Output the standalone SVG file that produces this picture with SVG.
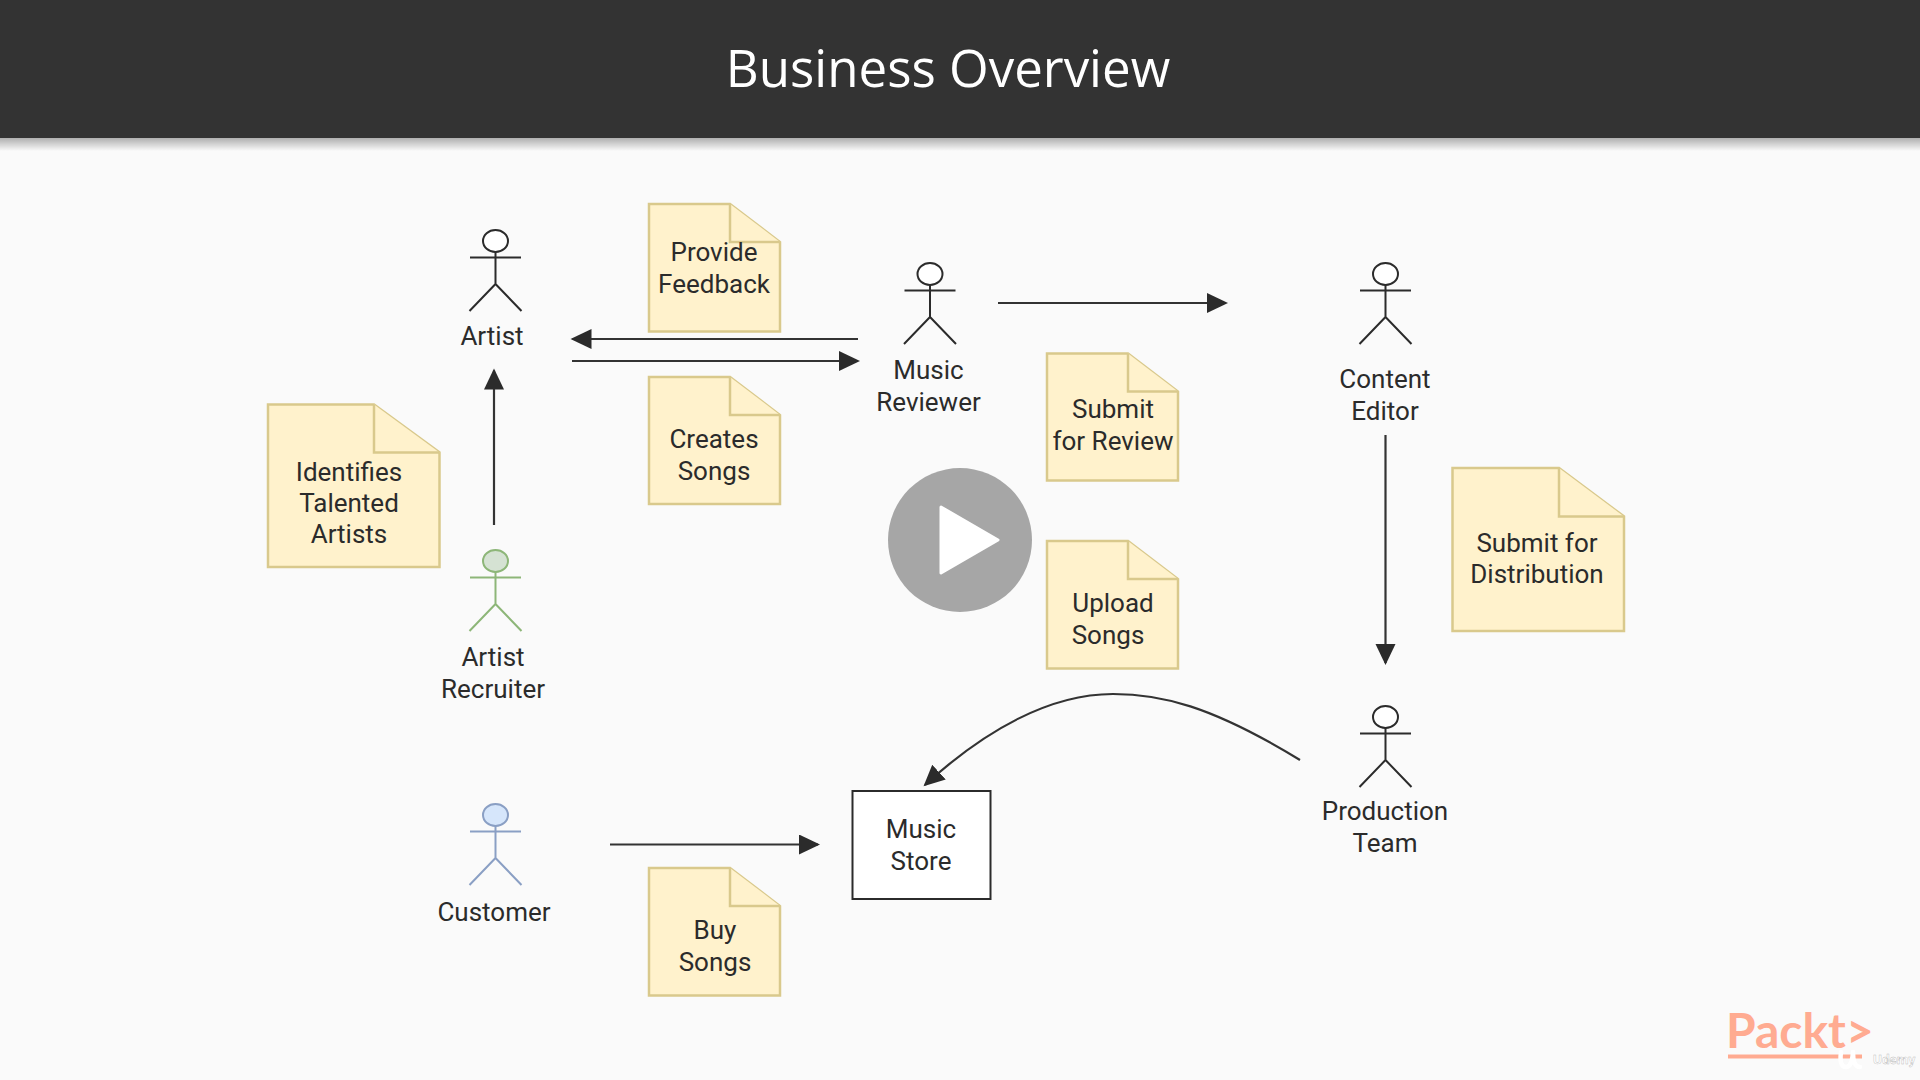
<svg xmlns="http://www.w3.org/2000/svg" width="1920" height="1080" viewBox="0 0 1920 1080">
<style>
text{font-family:Roboto,"Liberation Sans",sans-serif;font-size:26px;fill:#2b2b2b;text-anchor:middle}
.note{fill:#fff2cc;stroke:#d9c98c;stroke-width:2.5;stroke-linejoin:miter}
.a{fill:none;stroke-width:2}
.k{stroke:#2b2b2b}.g{stroke:#8db678}.b{stroke:#8a9fc4}
.c{fill:none;stroke:#333;stroke-width:2.2}
</style>
<defs>
<marker id="arrow" markerUnits="userSpaceOnUse" markerWidth="22" markerHeight="22" refX="19" refY="10" orient="auto"><path d="M0 0L21 10L0 20Z" fill="#2b2b2b"/></marker>
<linearGradient id="sh" x1="0" y1="0" x2="0" y2="1"><stop offset="0" stop-color="#000" stop-opacity=".3"/><stop offset="1" stop-color="#000" stop-opacity="0"/></linearGradient>
<g id="actor"><path d="M0 11V43M-25.500 16.500H25.500M0 43L-26 70M0 43L26 70"/></g>
</defs>
<rect width="1920" height="1080" fill="#fafafa"/>
<g id="header"><rect y="138" width="1920" height="13" fill="url(#sh)"/><rect width="1920" height="138" fill="#333"/>
<text x="948" y="86.500" style="font-family:'Open Sans',sans-serif;font-size:51px;fill:#fff">Business Overview</text></g>
<g id="connectors">
<path class="c" marker-end="url(#arrow)" d="M858 339H572.500"/>
<path class="c" marker-end="url(#arrow)" d="M572 361H858"/>
<path class="c" marker-end="url(#arrow)" d="M494 525V370.500"/>
<path class="c" marker-end="url(#arrow)" d="M998 303H1226"/>
<path class="c" marker-end="url(#arrow)" d="M1385.500 435V663"/>
<path class="c" marker-end="url(#arrow)" d="M610 844.500H818"/>
<path class="c" marker-end="url(#arrow)" d="M1300 760C1210 705 1160 694 1113 694C1050 694 985 730 925 785"/>
</g>
<g id="artist"><use href="#actor" x="495.500" y="241" class="a k"/><ellipse class="a k" cx="495.500" cy="241" rx="12.500" ry="11" style="fill:#fff"/><text x="492" y="345">Artist</text></g>
<g id="music-reviewer"><use href="#actor" x="930" y="274" class="a k"/><ellipse class="a k" cx="930" cy="274" rx="12.500" ry="11" style="fill:#fff"/><text x="928.500" y="379">Music</text><text x="928.500" y="411">Reviewer</text></g>
<g id="content-editor"><use href="#actor" x="1385.500" y="274" class="a k"/><ellipse class="a k" cx="1385.500" cy="274" rx="12.500" ry="11" style="fill:#fff"/><text x="1385" y="388">Content</text><text x="1385" y="420">Editor</text></g>
<g id="production-team"><use href="#actor" x="1385.500" y="717" class="a k"/><ellipse class="a k" cx="1385.500" cy="717" rx="12.500" ry="11" style="fill:#fff"/><text x="1385" y="819.500">Production</text><text x="1385" y="851.500">Team</text></g>
<g id="artist-recruiter"><use href="#actor" x="495.500" y="561" class="a g"/><ellipse class="a g" cx="495.500" cy="561" rx="12.500" ry="11" style="fill:#d5e2d3"/><text x="493" y="666">Artist</text><text x="493" y="698">Recruiter</text></g>
<g id="customer"><use href="#actor" x="495.500" y="815" class="a b"/><ellipse class="a b" cx="495.500" cy="815" rx="12.500" ry="11" style="fill:#d6e6fb"/><text x="494" y="921">Customer</text></g>
<g id="music-store"><rect x="852.500" y="791" width="138" height="108" fill="#fff" stroke="#2b2b2b" stroke-width="2"/><text x="921" y="838">Music</text><text x="921" y="870">Store</text></g>
<g id="note-provide-feedback"><path class="note" d="M649 204H730L780 242V331.500H649Z"/><path class="note" d="M730 204V242H780"/><text x="714" y="261">Provide</text><text x="714" y="293">Feedback</text></g>
<g id="note-creates-songs"><path class="note" d="M649 377H730L780 415V504H649Z"/><path class="note" d="M730 377V415H780"/><text x="714" y="448">Creates</text><text x="714" y="480">Songs</text></g>
<g id="note-identifies"><path class="note" d="M268 404.500H374L439.500 452.500V567H268Z"/><path class="note" d="M374 404.500V452.500H439.500"/><text x="349" y="481">Identifies</text><text x="349" y="512">Talented</text><text x="349" y="543">Artists</text></g>
<g id="note-submit-review"><path class="note" d="M1047 353.500H1128L1178 391.500V480.500H1047Z"/><path class="note" d="M1128 353.500V391.500H1178"/><text x="1113" y="418">Submit</text><text x="1113" y="450">for Review</text></g>
<g id="note-upload"><path class="note" d="M1047 541H1128L1178 579V668.500H1047Z"/><path class="note" d="M1128 541V579H1178"/><text x="1113" y="612">Upload</text><text x="1108" y="644">Songs</text></g>
<g id="note-distribution"><path class="note" d="M1452.500 468H1559L1624 516.500V631H1452.500Z"/><path class="note" d="M1559 468V516.500H1624"/><text x="1537" y="552">Submit for</text><text x="1537" y="583">Distribution</text></g>
<g id="note-buy"><path class="note" d="M649 868H730L780 906V995.500H649Z"/><path class="note" d="M730 868V906H780"/><text x="715" y="939">Buy</text><text x="715" y="971">Songs</text></g>
<g id="play"><circle cx="960" cy="540" r="72" fill="#a6a6a6"/><path d="M941 507L998 540L941 573Z" fill="#fff" stroke="#fff" stroke-width="3" stroke-linejoin="round"/></g>
<g id="logo"><text x="1726" y="1048" style="font-family:Lato,sans-serif;font-size:48px;font-weight:700;fill:#ffab91;text-anchor:start">Packt&gt;</text><rect x="1728" y="1054.500" width="134" height="4" fill="#ffab91"/>
<path d="M1841 1052Q1839 1067 1846 1067Q1852 1067 1853 1052M1853 1052Q1853 1067 1860 1067" fill="none" stroke="#fff" stroke-width="4.500" stroke-linecap="round"/>
<text x="1873" y="1064" style="font-size:13.500px;font-weight:700;fill:#fff;stroke:#bbb;stroke-width:.4;text-anchor:start">Udemy</text></g>
</svg>
